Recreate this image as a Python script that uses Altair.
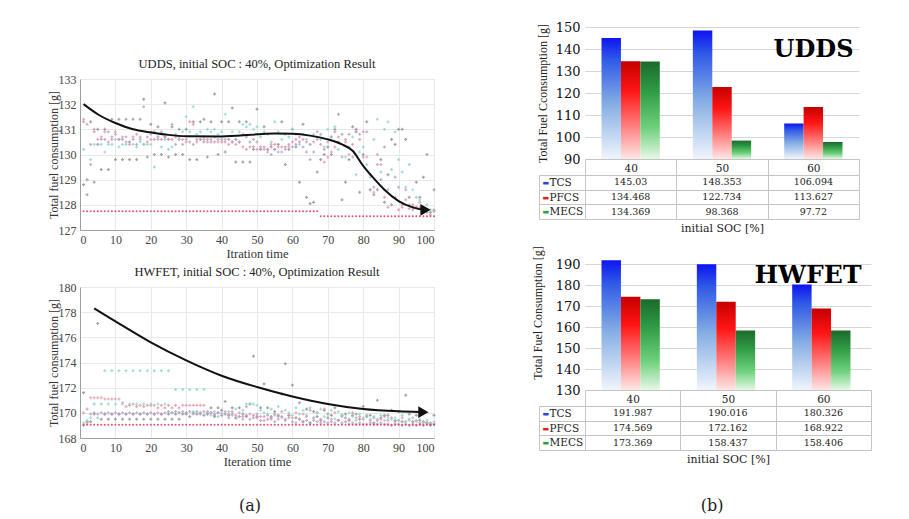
import altair as alt
import pandas as pd

SERIF = "Liberation Serif"
WSERIF = "DejaVu Serif"

# ---------------- data: scatter panels ----------------
iters = list(range(1, 101))
scatter_x_ticks = [0, 10, 20, 30, 40, 50, 60, 70, 80, 90, 100]
udds_y_ticks = [127, 128, 129, 130, 131, 132, 133]
hw_y_ticks = [168, 170, 172, 174, 176, 178, 180]

udds_gray = [128.8, 128.4, 131.3, 128.9, 131.0, 129.4, 131.0, 129.4, 131.4, 129.8,
             131.4, 129.8, 131.4, 129.8, 131.4, 129.8, 131.4, 132.2, 129.9, 131.2,
             130.0, 131.1, 130.0, 132.05, 129.9, 131.1, 130.0, 131.0, 130.0, 131.0,
             129.8, 131.3, 129.8, 131.3, 131.4, 129.9, 131.3, 132.4, 130.0, 131.3,
             130.1, 131.3, 131.85, 129.7, 131.3, 129.7, 131.3, 129.7, 130.2, 131.8,
             130.2, 131.1, 130.2, 130.3, 130.2, 130.4, 131.3, 129.6, 130.2, 131.0,
             130.3, 128.9, 131.2, 128.3, 128.05, 128.1, 129.3, 129.8, 130.0, 130.3,
             130.0, 131.0, 131.6, 128.2, 128.9, 129.8, 131.1, 131.0, 128.5, 130.0,
             131.3, 128.6, 128.4, 128.6, 129.8, 128.1, 129.2, 130.6, 130.4, 131.0,
             131.0, 130.6, 128.3, 127.9, 128.9, 128.3, 129.1, 130.0, 127.7, 128.6]
udds_pink = [131.4, 131.2, 129.6, 130.9, 130.6, 130.7, 130.9, 130.5, 130.6, 130.8,
             130.6, 130.7, 130.5, 130.4, 130.7, 130.8, 130.6, 130.4, 130.5, 130.6,
             130.6, 130.7, 130.6, 130.7, 130.6, 130.6, 130.7, 130.6, 130.6, 130.5,
             131.3, 131.2, 130.5, 130.6, 130.6, 130.5, 130.6, 130.5, 130.5, 130.5,
             130.6, 130.4, 130.5, 130.4, 130.5, 130.3, 130.2, 130.3, 130.3, 130.2,
             130.3, 130.3, 130.2, 130.4, 130.4, 130.3, 130.3, 130.2, 130.3, 130.5,
             130.6, 130.7, 130.6, 130.5, 130.4, 130.5, 130.6, 130.4, 129.7, 129.9,
             130.1, 130.3, 130.7, 130.8, 130.5, 130.0, 130.4, 130.9, 130.6, 130.9,
             129.9, 129.2, 128.5, 130.0, 129.6, 128.3, 127.9, 128.0, 128.3, 127.8,
             127.9, 128.2, 127.85, 128.0, 127.9, 128.1, 127.75, 127.8, 127.7, 127.75]
udds_teal = [130.2, 129.0, 129.8, 130.4, 130.4, 130.4, 130.1, 130.4, 130.4, 130.6,
             130.3, 130.4, 130.4, 130.5, 130.4, 130.3, 130.5, 130.4, 130.4, 130.4,
             129.5, 130.7, 130.3, 130.6, 130.2, 130.3, 130.8, 130.6, 130.9, 131.5,
             130.9, 131.9, 130.8, 130.9, 130.7, 131.0, 130.9, 131.0, 130.8, 130.9,
             131.6, 130.6, 130.9, 130.6, 130.9, 131.2, 131.1, 131.2, 131.0, 131.1,
             130.7, 130.9, 130.8, 130.5, 131.3, 130.9, 130.6, 130.8, 130.7, 131.0,
             130.8, 130.4, 130.8, 130.6, 130.4, 130.8, 130.7, 130.6, 130.3, 131.0,
             130.7, 131.1, 130.2, 130.8, 129.9, 130.3, 130.7, 129.2, 130.1, 130.3,
             129.6, 129.1, 130.6, 131.4, 129.3, 131.0, 131.3, 129.4, 130.9, 129.8,
             129.3, 128.7, 129.6, 128.6, 128.3, 128.2, 127.8, 128.0, 127.8, 127.75]
udds_purple = [131.3, 129.0, 130.4, 131.0, 130.4, 130.6, 130.6, 130.9, 130.7, 130.9,
               130.6, 130.6, 130.7, 130.5, 130.6, 130.4, 130.7, 131.9, 130.7, 130.8,
               130.9, 130.6, 130.9, 130.7, 130.6, 131.2, 130.4, 130.7, 130.4, 130.6,
               130.5, 130.4, 130.6, 130.6, 130.5, 130.6, 130.5, 130.7, 130.6, 130.6,
               130.5, 130.6, 130.5, 130.6, 130.5, 130.8, 130.7, 130.5, 130.6, 130.5,
               130.2, 130.2, 130.1, 130.0, 130.2, 130.1, 130.1, 130.3, 130.4, 130.3,
               130.4, 130.5, 130.3, 130.1, 129.8, 130.1, 130.9, 130.8, 130.2, 130.5,
               130.7, 130.9, 130.5, 129.9, 130.6, 130.8, 129.9, 130.9, 130.8, 129.9,
               130.9, 128.6, 128.7, 129.6, 129.0, 130.3, 128.6, 128.0, 129.1, 128.7,
               128.0, 128.6, 128.0, 127.8, 127.9, 127.9, 127.7, 127.7, 127.6, 127.8]
udds_best = [127.75] * 67 + [127.55] * 33

hw_gray = [171.6, 169.3, 169.3, 169.9, 177.1, 169.5, 169.9, 169.5, 169.9, 169.5,
           169.9, 169.5, 169.9, 169.5, 169.9, 169.5, 169.9, 169.5, 169.9, 169.5,
           169.9, 169.5, 169.9, 169.5, 169.9, 169.5, 169.9, 169.5, 169.9, 169.9,
           169.7, 170.0, 169.9, 170.0, 169.8, 169.9, 170.4, 169.7, 170.4, 170.2,
           170.9, 169.8, 170.4, 169.6, 170.4, 169.9, 169.7, 170.7, 174.5, 169.7,
           170.4, 172.3, 170.4, 169.7, 170.1, 169.8, 171.5, 173.9, 169.8, 172.2,
           169.6, 170.8, 169.3, 170.3, 169.2, 170.1, 169.7, 169.4, 170.2, 169.6,
           169.8, 170.4, 169.4, 169.8, 169.9, 169.4, 169.8, 169.9, 169.5, 170.5,
           169.7, 169.8, 169.2, 171.0, 169.6, 169.8, 169.8, 170.2, 169.4, 170.1,
           169.3, 171.4, 169.9, 169.3, 169.8, 169.4, 169.3, 169.2, 169.1, 169.8]
hw_pink = [170.0, 169.2, 171.2, 171.2, 171.2, 171.2, 171.1, 171.1, 171.1, 171.1,
           171.1, 170.8, 170.5, 170.6, 170.7, 170.5, 170.6, 170.5, 170.6, 170.6,
           170.6, 170.4, 170.6, 170.4, 170.6, 170.4, 170.6, 170.4, 170.6, 170.6,
           170.6, 170.6, 170.6, 170.6, 170.6, 170.1, 170.0, 169.9, 170.0, 169.8,
           170.1, 169.9, 170.1, 169.8, 170.0, 169.7, 170.5, 169.9, 169.8, 169.6,
           169.7, 169.4, 169.8, 169.5, 169.9, 169.7, 170.1, 169.5, 169.8, 169.6,
           170.0, 169.5, 169.9, 169.7, 170.2, 169.6, 170.0, 169.5, 170.3, 169.9,
           169.5, 170.0, 169.4, 169.7, 169.6, 169.5, 170.0, 169.6, 169.7, 169.5,
           169.8, 169.4, 169.6, 169.4, 169.5, 169.7, 169.4, 169.6, 169.3, 169.4,
           169.6, 169.3, 169.5, 169.3, 169.4, 169.2, 169.3, 169.2, 169.2, 169.1]
hw_teal = [169.2, 169.4, 169.6, 170.7, 169.6, 170.7, 173.35, 170.7, 173.35, 170.7,
           173.35, 170.7, 173.35, 170.7, 173.35, 170.7, 173.35, 170.7, 173.35, 170.7,
           173.35, 170.7, 173.35, 170.7, 173.35, 170.0, 171.85, 170.0, 171.85, 170.0,
           171.85, 170.1, 171.85, 170.0, 171.85, 170.0, 169.8, 170.1, 169.7, 170.0,
           169.9, 170.1, 169.8, 170.3, 169.7, 170.2, 170.7, 170.7, 170.7, 170.6,
           170.2, 170.0, 169.9, 170.3, 169.8, 170.5, 169.6, 170.2, 170.0, 169.8,
           170.4, 169.9, 170.2, 169.8, 170.4, 169.6, 170.0, 170.3, 169.7, 169.9,
           170.2, 169.5, 170.1, 169.8, 169.6, 170.0, 169.7, 169.4, 169.9, 169.6,
           169.8, 169.5, 169.7, 169.5, 169.8, 169.4, 169.6, 169.5, 169.6, 169.4,
           169.8, 169.3, 169.4, 169.6, 169.3, 169.5, 169.2, 169.4, 169.2, 169.3]
hw_purple = [169.0, 170.3, 169.9, 170.0, 169.9, 170.0, 169.9, 170.0, 169.9, 170.0,
             169.9, 170.0, 169.9, 170.0, 169.9, 170.0, 169.9, 170.0, 169.9, 170.0,
             169.9, 170.0, 169.9, 170.0, 170.1, 170.0, 170.1, 170.0, 170.1, 170.0,
             170.1, 169.9, 170.1, 169.9, 170.1, 169.9, 170.0, 169.8, 170.0, 169.8,
             169.9, 169.6, 169.9, 169.6, 169.7, 169.5, 169.8, 169.5, 169.6, 169.9,
             169.4, 169.7, 169.5, 169.6, 169.3, 169.5, 169.7, 169.4, 169.6, 169.3,
             169.2, 169.5, 169.3, 169.4, 169.2, 169.4, 169.3, 169.2, 169.3, 169.2,
             169.3, 169.2, 169.4, 169.2, 169.3, 169.1, 169.2, 169.1, 169.2, 169.1,
             169.1, 169.2, 169.1, 169.1, 169.2, 169.1, 169.1, 169.0, 169.1, 169.1,
             169.0, 169.1, 169.0, 169.1, 169.0, 169.1, 169.0, 169.1, 169.0, 169.1]
hw_best = [169.05] * 100

udds_curve_x = [1, 5, 10, 15, 20, 25, 30, 40, 50, 55, 60, 65, 70, 74, 77, 80, 83, 86, 90, 94, 97]
udds_curve_y = [132.0, 131.6, 131.25, 131.0, 130.88, 130.78, 130.73, 130.72, 130.8, 130.83,
                130.82, 130.75, 130.6, 130.4, 130.15, 129.55, 129.05, 128.6, 128.15, 127.9, 127.8]
udds_head_x = [97.6]
udds_head_y = [127.8]
hw_curve_x = [4, 10, 20, 30, 40, 50, 60, 70, 80, 90, 96]
hw_curve_y = [178.3, 177.27, 175.6, 174.17, 172.95, 172.05, 171.3, 170.7, 170.3, 170.12, 170.07]
hw_head_x = [97.0]
hw_head_y = [170.05]

series_names = ["gray", "pink", "teal", "purple"]
series_colors = ["#8c8c8c", "#e391a4", "#86d6cc", "#b49cc6"]

# ---------------- data: bar panels ----------------
soc_levels = ["40", "50", "60"]
strategies = ["TCS", "PFCS", "MECS"]
udds_tcs = [145.03, 148.353, 106.094]
udds_pfcs = [134.468, 122.734, 113.627]
udds_mecs = [134.369, 98.368, 97.72]
hw_tcs = [191.987, 190.016, 180.326]
hw_pfcs = [174.569, 172.162, 168.922]
hw_mecs = [173.369, 158.437, 158.406]
udds_bar_ticks = [90, 100, 110, 120, 130, 140, 150]
hw_bar_ticks = [130, 140, 150, 160, 170, 180, 190]


def grad(stops):
    return alt.Gradient(
        gradient="linear",
        stops=[alt.GradientStop(color=c, offset=o) for o, c in stops],
        x1=0, x2=0, y1=0, y2=1,
    )


bar_grads = {
    "TCS": grad([(0, "#0e14f2"), (0.18, "#2f5ae6"), (0.55, "#86aee4"), (1, "#f0f5fc")]),
    "PFCS": grad([(0, "#c40000"), (0.3, "#ff1414"), (0.65, "#ff7a7a"), (1, "#ffe6e6")]),
    "MECS": grad([(0, "#1c6a2c"), (0.3, "#2e9a44"), (0.68, "#6fd07c"), (1, "#e6f8e6")]),
}
swatch_cond = {
    "condition": [
        {"test": "datum.value == 'TCS'", "value": "#2448d8"},
        {"test": "datum.value == 'PFCS'", "value": "#e02020"},
    ],
    "value": "#2e9a4a",
}
LINE = "#c4c4c4"


def scatter_panel(title, series_lists, best, cx, cy, hx, hy, ydom, yticks, xtitle):
    rows = []
    for name, vals in zip(series_names, series_lists):
        for i, v in zip(iters, vals):
            rows.append({"x": i, "y": v, "s": name})
    df = pd.DataFrame(rows)
    dbest = pd.DataFrame({"x": iters, "y": best})
    dcurve = pd.DataFrame({"x": cx, "y": cy})
    dhead = pd.DataFrame({"x": hx, "y": hy})
    xenc = alt.X("x:Q", scale=alt.Scale(domain=[0, 100], nice=False),
                 axis=alt.Axis(values=scatter_x_ticks, tickCount=len(scatter_x_ticks),
                               title=xtitle, grid=True, labelOverlap=False,
                               gridColor="#e9e9e9", domainColor="#a0a0a0", tickSize=0,
                               labelFont=SERIF, labelFontSize=12, labelColor="#444",
                               labelPadding=4, titleFont=SERIF, titleFontSize=12.5,
                               titleFontWeight="normal", titleColor="#333", titlePadding=2))
    yenc = alt.Y("y:Q", scale=alt.Scale(domain=ydom, nice=False, zero=False),
                 axis=alt.Axis(values=yticks, tickCount=len(yticks),
                               title="Total fuel consumption [g]", grid=True,
                               labelOverlap=False,
                               gridColor="#e9e9e9", domainColor="#a0a0a0", tickSize=0,
                               labelFont=SERIF, labelFontSize=12, labelColor="#444",
                               labelPadding=4, titleFont=SERIF, titleFontSize=12,
                               titleFontWeight="normal", titleColor="#333", titlePadding=-2))
    pts = alt.Chart(df).mark_point(shape="cross", filled=True, size=9, opacity=0.8, strokeWidth=0).encode(
        x=xenc, y=yenc,
        color=alt.Color("s:N", scale=alt.Scale(domain=series_names, range=series_colors), legend=None))
    bpts = alt.Chart(dbest).mark_point(shape="circle", filled=True, size=4, opacity=0.9,
                                       strokeWidth=0, color="#e0405a").encode(x=xenc, y=yenc)
    line = alt.Chart(dcurve).mark_line(color="#111", strokeWidth=2, interpolate="monotone").encode(
        x=xenc, y=yenc)
    head = alt.Chart(dhead).mark_point(shape="triangle-right", filled=True, size=140, opacity=1,
                                       color="#111").encode(x=xenc, y=yenc)
    return alt.layer(pts, bpts, line, head).properties(
        width=354, height=151,
        title=alt.TitleParams(title, font=SERIF, fontSize=12.5, fontWeight="normal",
                              color="#222", offset=3),
        view=alt.ViewBackground(stroke="#dcdcdc"),
    )


def bar_panel(label, tcs, pfcs, mecs, ydom, yticks, ytitle, width, height, title_dx, title_dy,
              title_fs, ytitle_pad):
    rows = []
    for s, vals in zip(strategies, [tcs, pfcs, mecs]):
        for soc, v in zip(soc_levels, vals):
            rows.append({"soc": soc, "strategy": s, "value": v})
    df = pd.DataFrame(rows)
    base = alt.Chart(df).encode(
        x=alt.X("soc:N", sort=soc_levels, scale=alt.Scale(paddingInner=0, paddingOuter=0),
                axis=alt.Axis(title=None, labelAngle=0, tickBand="extent", ticks=True, tickSize=16,
                              tickColor=LINE, domainColor=LINE, grid=False, labelFont=WSERIF,
                              labelFontSize=10.5, labelColor="#222", labelPadding=-12)),
        xOffset=alt.XOffset("strategy:N", sort=strategies,
                            scale=alt.Scale(domain=strategies, paddingInner=0, paddingOuter=0.85)),
        y=alt.Y("value:Q", scale=alt.Scale(domain=ydom, nice=False, zero=False),
                axis=alt.Axis(values=yticks, title=ytitle, grid=True, gridColor="#d6d6d6",
                              labelOverlap=False,
                              domain=False, ticks=False, labelFont=WSERIF, labelFontSize=13,
                              labelColor="#111", labelPadding=5, titleFont=SERIF, titleFontSize=12,
                              titleFontWeight="normal", titleColor="#222", titlePadding=ytitle_pad)),
        y2=alt.datum(ydom[0]),
    )
    layers = [base.transform_filter(alt.datum.strategy == s).mark_bar(color=bar_grads[s])
              for s in strategies]
    bars = alt.layer(*layers).properties(
        width=width, height=height,
        title=alt.TitleParams(label, anchor="end", font=WSERIF, fontSize=title_fs, fontWeight="bold",
                              color="#000", dx=title_dx, dy=title_dy),
        view=alt.ViewBackground(stroke=None),
    )

    xt = alt.X("soc:N", sort=soc_levels, scale=alt.Scale(paddingInner=0, paddingOuter=0),
               axis=alt.Axis(title="initial SOC [%]", labels=False, ticks=False, domain=False,
                             grid=True, tickBand="extent", gridColor=LINE, titleFont=WSERIF,
                             titleFontSize=11, titleFontWeight="normal", titleColor="#222",
                             titlePadding=3))
    txt = alt.Chart(df).mark_text(font=WSERIF, fontSize=9.5, color="#222").encode(
        x=xt,
        y=alt.Y("strategy:N", sort=strategies,
                scale=alt.Scale(domain=strategies, paddingInner=0, paddingOuter=0),
                axis=alt.Axis(title=None, grid=True, gridColor=LINE, tickBand="extent", ticks=True,
                              tickSize=46, tickColor=LINE, domain=False, labelAlign="left",
                              labelPadding=-10, labelFont=WSERIF, labelFontSize=10.5,
                              labelColor="#222", labelOverlap=False)),
        text=alt.Text("value:Q"),
    )
    sw = alt.Chart(df).mark_point(opacity=0).encode(
        x=alt.X("soc:N", sort=soc_levels),
        y=alt.Y("strategy:N", sort=strategies,
                scale=alt.Scale(domain=strategies, paddingInner=0, paddingOuter=0),
                axis=alt.Axis(orient="left", offset=46, title=None, grid=False, ticks=False,
                              domain=True, domainColor=LINE, labelExpr="'\u25ac'",
                              labelAlign="left", labelPadding=-3, labelFont="DejaVu Sans",
                              labelFontSize=7, labelColor=swatch_cond, labelOverlap=False)),
    )
    table = alt.layer(txt, sw).resolve_scale(y="independent").properties(
        width=width, height=44, view=alt.ViewBackground(stroke=None))
    return bars, table


def spacer(w, h, title=None, dx=0):
    c = alt.Chart(pd.DataFrame({"v": [0]})).mark_point(opacity=0).encode(
        x=alt.X("v:Q", axis=None), y=alt.Y("v:Q", axis=None))
    props = dict(width=w, height=h, view=alt.ViewBackground(stroke=None))
    if title is not None:
        props["title"] = alt.TitleParams(title, orient="bottom", font=WSERIF, fontSize=16,
                                         fontWeight="normal", color="#222", offset=4, dx=dx)
    return c.properties(**props)


a1 = scatter_panel("UDDS, initial SOC : 40%, Optimization Result",
                   [udds_gray, udds_pink, udds_teal, udds_purple], udds_best,
                   udds_curve_x, udds_curve_y, udds_head_x, udds_head_y,
                   [127, 133], udds_y_ticks, "Itration time")
a2 = scatter_panel("HWFET, initial SOC : 40%, Optimization Result",
                   [hw_gray, hw_pink, hw_teal, hw_purple], hw_best,
                   hw_curve_x, hw_curve_y, hw_head_x, hw_head_y,
                   [168, 180], hw_y_ticks, "Iteration time")

b1, t1 = bar_panel("UDDS", udds_tcs, udds_pfcs, udds_mecs, [90, 150], udds_bar_ticks,
                   "Total Fuel Cconsumption [g]", 274, 132, -6, 45, 24, 6)
b2, t2 = bar_panel("HWFET", hw_tcs, hw_pfcs, hw_mecs, [130, 204], hw_bar_ticks,
                   "Total Fuel Consumption [g]", 286, 155, -10, 57, 25, 11)

left_col = alt.vconcat(spacer(354, 36), a1, spacer(354, 25), a2, spacer(354, 40, "(a)", -7),
                       spacing=16, bounds="flush")
right_col = alt.vconcat(b1, t1, b2, t2, spacer(286, 28, "(b)", -16),
                        spacing=16, bounds="flush")

chart = alt.hconcat(left_col, right_col, spacing=95).properties(
    padding={"left": 38, "top": 13, "right": 0, "bottom": 0}
).configure(background="white")

chart.save("out.html", embed_options={"renderer": "svg", "actions": False})
